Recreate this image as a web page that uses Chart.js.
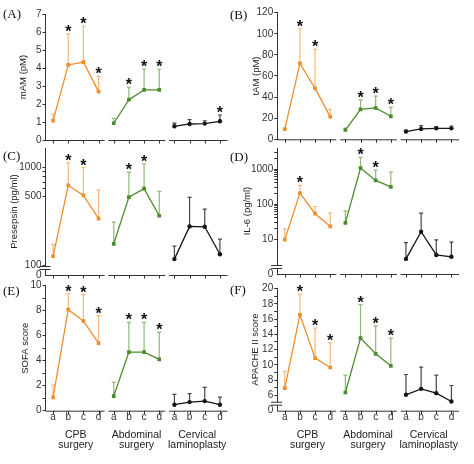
<!DOCTYPE html>
<html>
<head>
<meta charset="utf-8">
<script src="https://cdn.jsdelivr.net/npm/chart.js@4.4.0/dist/chart.umd.min.js"></script>
<style>
    body { margin: 0; background: #fff; width: 474px; height: 464px; position: relative; overflow: hidden; }
    .panel { position: absolute; }
    .tag { position: absolute; font-family: 'Liberation Serif', serif; font-size: 13px; line-height: 16px; color: #111; }
</style>
</head>
<body>
<div class="panel" style="left:0;top:0;width:237px;height:160px"><canvas id="chartA"></canvas></div>
<div class="panel" style="left:237px;top:0;width:237px;height:160px"><canvas id="chartB"></canvas></div>
<div class="panel" style="left:0;top:130px;width:237px;height:160px"><canvas id="chartC"></canvas></div>
<div class="panel" style="left:237px;top:130px;width:237px;height:160px"><canvas id="chartD"></canvas></div>
<div class="panel" style="left:0;top:270px;width:237px;height:194px"><canvas id="chartE"></canvas></div>
<div class="panel" style="left:237px;top:270px;width:237px;height:194px"><canvas id="chartF"></canvas></div>
<div class="tag" style="left:3px;top:6px">(A)</div>
<div class="tag" style="left:230px;top:7px">(B)</div>
<div class="tag" style="left:3px;top:148px">(C)</div>
<div class="tag" style="left:230px;top:149px">(D)</div>
<div class="tag" style="left:3px;top:283px">(E)</div>
<div class="tag" style="left:230px;top:282px">(F)</div>
<script>
const timepoints = ['a', 'b', 'c', 'd'];
const groupNames = [['CPB', 'surgery'], ['Abdominal', 'surgery'], ['Cervical', 'laminoplasty']];

// valores: CPB a-d, Abdominal a-d, Cervical a-d
const mamMean = [1.07, 4.17, 4.33, 2.69, 0.93, 2.24, 2.78, 2.78, 0.76, 0.89, 0.91, 1.04];
const mamUpper = [1.43, 5.9, 6.33, 3.54, 1.2, 2.93, 3.93, 3.93, 0.94, 1.13, 1.07, 1.39];
const mamStars = [1, 2, 3, 5, 6, 7, 11];
const mamTicks = [0, 1, 2, 3, 4, 5, 6, 7];

const tamMean = [9.5, 72, 48.3, 21.5, 8.8, 28.4, 29.7, 21.8, 7.3, 9.8, 10.4, 10.4];
const tamUpper = [10.5, 104.8, 85.3, 28.4, 10.5, 37.3, 41, 30.3, 8.8, 13, 12, 12.6];
const tamStars = [1, 2, 5, 6, 7];
const tamTicks = [0, 20, 40, 60, 80, 100, 120];

const presepsinMean = [124, 652, 515, 299, 166, 495, 602, 320, 116, 249, 247, 130];
const presepsinUpper = [164, 1100, 985, 583, 276, 882, 1073, 566, 157, 491, 374, 185];
const presepsinStars = [1, 2, 5, 6];
const presepsinTicks = [100, 500, 600, 700, 800, 900, 1000];
const presepsinLabels = [100, 500, 1000];

const il6Mean = [9.6, 205, 53, 23, 29, 1070, 473, 311, 2.7, 16.2, 3.5, 3.1];
const il6Upper = [19.4, 340, 85, 55, 64, 2160, 936, 820, 7.9, 55, 9.4, 8.1];
const il6Stars = [1, 5, 6];
const il6Ticks = [10, 20, 30, 40, 50, 60, 70, 80, 90, 100, 200, 300, 400, 500, 600, 700, 800, 900, 1000, 2000, 3000];
const il6Labels = [10, 100, 1000];

const sofaMean = [1.07, 8.08, 7.17, 5.41, 1.17, 4.69, 4.69, 4.1, 0.48, 0.69, 0.77, 0.48];
const sofaUpper = [2.05, 9.36, 9.28, 7.6, 2.27, 7.07, 7.07, 6.27, 1.31, 1.36, 1.87, 1.09];
const sofaStars = [1, 2, 3, 5, 6, 7];
const sofaTicks = [0, 1, 2, 3, 4, 5, 6, 7, 8, 9, 10];

const apacheMean = [6.95, 16.56, 10.88, 9.66, 6.38, 13.5, 11.45, 9.88, 6.08, 6.86, 6.3, 5.2];
const apacheUpper = [9.14, 19.27, 14.81, 12.89, 8.65, 17.9, 15.1, 13.5, 8.74, 9.7, 8.65, 7.3];
const apacheStars = [1, 2, 3, 5, 6, 7];
const apacheTicks = [6, 7, 8, 9, 10, 11, 12, 13, 14, 15, 16, 17, 18, 19, 20];

const lineColors = ['#ef8e2b', '#4b8a2d', '#151515'];
const barColors = ['#f6b87e', '#8dba79', '#474747'];
const markerStyles = ['rect', 'rect', 'circle'];
const textFont = "'Liberation Sans', Arial, sans-serif";

// barras de erro (só para cima) e asteriscos
const errorBarPlugin = {
    id: 'errorBars',
    beforeDatasetsDraw(chart, args, opts) {
        const { ctx, scales: { x, y } } = chart;
        ctx.save();
        ctx.lineWidth = 1.2;
        opts.upper.forEach((v, i) => {
            const g = Math.floor(i / 4);
            const px = x.getPixelForValue(i);
            const top = y.getPixelForValue(v);
            const base = y.getPixelForValue(opts.mean[i]);
            ctx.strokeStyle = barColors[g];
            ctx.beginPath();
            ctx.moveTo(px, base);
            ctx.lineTo(px, top);
            ctx.moveTo(px - 2, top);
            ctx.lineTo(px + 2, top);
            ctx.stroke();
        });
        ctx.restore();
    },
    afterDatasetsDraw(chart, args, opts) {
        const { ctx, scales: { x, y } } = chart;
        ctx.save();
        ctx.fillStyle = '#111';
        ctx.font = 'bold 16px ' + textFont;
        ctx.textAlign = 'center';
        ctx.textBaseline = 'alphabetic';
        opts.stars.forEach(i => {
            const top = y.getPixelForValue(opts.upper[i]);
            ctx.fillText('*', x.getPixelForValue(i), top + 3);
        });
        ctx.restore();
    }
};

// eixo x quebrado em 3 segmentos, rótulos, quebra do eixo y e título
const framePlugin = {
    id: 'frame',
    afterDraw(chart, args, opts) {
        const { ctx, chartArea: area, scales: { x } } = chart;
        const base = area.bottom;
        ctx.save();
        ctx.strokeStyle = '#333';
        ctx.lineWidth = 1;
        ctx.fillStyle = '#333';
        groupNames.forEach((name, g) => {
            const start = g === 0 ? -0.5 : g * 4 - 0.35;
            const end = g === 2 ? 11.5 : g * 4 + 3.4;
            ctx.beginPath();
            ctx.moveTo(x.getPixelForValue(start), base + 0.5);
            ctx.lineTo(x.getPixelForValue(end), base + 0.5);
            timepoints.forEach((t, k) => {
                const px = Math.round(x.getPixelForValue(g * 4 + k)) + 0.5;
                ctx.moveTo(px, base);
                ctx.lineTo(px, base + 3.5);
            });
            ctx.stroke();
            if (opts.showLabels) {
                ctx.font = '10px ' + textFont;
                ctx.textAlign = 'center';
                ctx.textBaseline = 'middle';
                timepoints.forEach((t, k) => {
                    ctx.fillText(t, x.getPixelForValue(g * 4 + k), base + 7);
                });
                ctx.font = '10.5px ' + textFont;
                ctx.fillStyle = '#222';
                const cx = x.getPixelForValue(g * 4 + 1.5);
                ctx.fillText(name[0], cx, base + 24.5);
                ctx.fillText(name[1], cx, base + 34);
                ctx.fillStyle = '#333';
            }
        });
        if (opts.broken) {
            const ax = area.left;
            ctx.fillStyle = '#fff';
            ctx.fillRect(ax - 1.5, base - 8, 3, 2.5);
            ctx.beginPath();
            ctx.moveTo(ax - 6, base - 8.5);
            ctx.lineTo(ax + 5, base - 8.5);
            ctx.moveTo(ax - 6, base - 5.5);
            ctx.lineTo(ax + 5, base - 5.5);
            ctx.stroke();
            ctx.fillStyle = '#333';
            ctx.font = '10px ' + textFont;
            ctx.textAlign = 'right';
            ctx.textBaseline = 'middle';
            ctx.fillText('0', ax - 4, base);
        }
        ctx.fillStyle = '#222';
        ctx.font = '9.5px ' + textFont;
        ctx.textAlign = 'center';
        ctx.textBaseline = 'middle';
        ctx.translate(opts.titleX, (area.top + area.bottom) / 2);
        ctx.rotate(-Math.PI / 2);
        ctx.fillText(opts.title, 0, 0);
        ctx.restore();
    }
};

function buildDatasets(mean) {
    return groupNames.map((name, g) => ({
        data: timepoints.map((t, k) => ({ x: g * 4 + k, y: mean[g * 4 + k] })),
        borderColor: lineColors[g],
        backgroundColor: lineColors[g],
        borderWidth: 1.3,
        pointStyle: markerStyles[g],
        pointRadius: g === 2 ? 2.2 : 2.6,
        pointBorderWidth: 0,
        tension: 0
    }));
}

function makePanel(id, cfg) {
    const ctx = document.getElementById(id).getContext('2d');
    new Chart(ctx, {
        type: 'line',
        data: { datasets: buildDatasets(cfg.mean) },
        plugins: [errorBarPlugin, framePlugin],
        options: {
            responsive: true,
            maintainAspectRatio: false,
            animation: false,
            events: [],
            layout: { padding: cfg.padding },
            scales: {
                x: { type: 'linear', min: -0.5, max: 11.5, display: false },
                y: {
                    type: cfg.type,
                    min: cfg.min,
                    max: cfg.max,
                    afterFit: s => { s.width = cfg.axisWidth; },
                    afterBuildTicks: s => { s.ticks = cfg.ticks.map(v => ({ value: v })); },
                    border: { color: '#333', width: 1 },
                    grid: { drawOnChartArea: false, tickLength: 3, color: '#333' },
                    ticks: {
                        autoSkip: false,
                        padding: 1,
                        color: '#333',
                        font: { family: textFont, size: 10 },
                        callback: cfg.label
                    }
                }
            },
            plugins: {
                legend: { display: false },
                tooltip: { enabled: false },
                errorBars: { mean: cfg.mean, upper: cfg.upper, stars: cfg.stars },
                frame: { title: cfg.title, titleX: cfg.titleX, broken: cfg.broken, showLabels: cfg.showLabels }
            }
        }
    });
}

makePanel('chartA', {
    mean: mamMean, upper: mamUpper, stars: mamStars, ticks: mamTicks,
    type: 'linear', min: 0, max: 7, label: v => String(v),
    title: 'mAM (pM)', titleX: 23, axisWidth: 40,
    padding: { left: 5.5, right: 9.5, top: 14, bottom: 20 }
});

makePanel('chartB', {
    mean: tamMean, upper: tamUpper, stars: tamStars, ticks: tamTicks,
    type: 'linear', min: 0, max: 120, label: v => String(v),
    title: 'tAM (pM)', titleX: 19, axisWidth: 36,
    padding: { left: 4.2, right: 15, top: 12.7, bottom: 20.7 }
});

makePanel('chartC', {
    mean: presepsinMean, upper: presepsinUpper, stars: presepsinStars, ticks: presepsinTicks,
    type: 'logarithmic', min: 80, max: 1560,
    label: v => presepsinLabels.includes(v) ? String(v) : '',
    title: 'Presepsin (pg/ml)', titleX: 14, axisWidth: 40, broken: true,
    padding: { left: 5.5, right: 9.5, top: 18, bottom: 15 }
});

makePanel('chartD', {
    mean: il6Mean, upper: il6Upper, stars: il6Stars, ticks: il6Ticks,
    type: 'logarithmic', min: 1, max: 4000,
    label: v => il6Labels.includes(v) ? String(v) : '',
    title: 'IL-6 (pg/ml)', titleX: 10, axisWidth: 36, broken: true,
    padding: { left: 4.2, right: 15, top: 18, bottom: 16 }
});

makePanel('chartE', {
    mean: sofaMean, upper: sofaUpper, stars: sofaStars, ticks: sofaTicks,
    type: 'linear', min: 0, max: 10, label: v => v % 2 === 0 ? String(v) : '',
    title: 'SOFA score', titleX: 25, axisWidth: 40, showLabels: true,
    padding: { left: 5.5, right: 9.5, top: 15.7, bottom: 53.3 }
});

makePanel('chartF', {
    mean: apacheMean, upper: apacheUpper, stars: apacheStars, ticks: apacheTicks,
    type: 'linear', min: 4, max: 20, label: v => v % 2 === 0 ? String(v) : '',
    title: 'APACHE II score', titleX: 18, axisWidth: 36, broken: true, showLabels: true,
    padding: { left: 4.2, right: 15, top: 18.5, bottom: 53.3 }
});
</script>
</body>
</html>
